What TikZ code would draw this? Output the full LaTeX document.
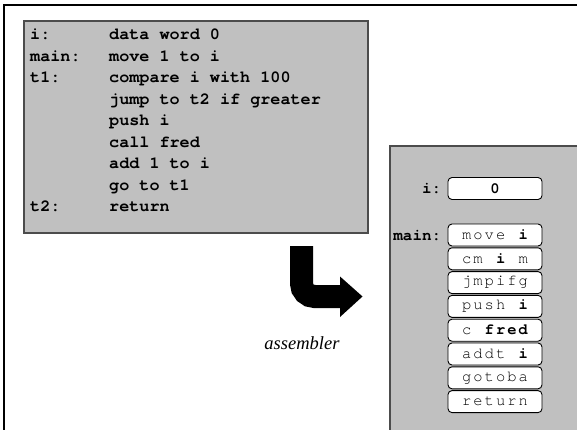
\documentclass[tikz,border=0pt]{standalone}
\usepackage{fontspec}
\setmainfont{Liberation Serif}
\newfontfamily\codefont{TeX Gyre Cursor}
\definecolor{panelgray}{RGB}{192,192,192}
\tikzset{
  panel/.style={fill=panelgray, draw=black!70, line width=1.5pt},
  codeline/.style={anchor=base west, inner sep=0pt,
    font=\codefont\bfseries\fontsize{16.8}{20}\selectfont},
  memlabel/.style={anchor=base east, inner sep=0pt,
    font=\codefont\bfseries\fontsize{16}{20}\selectfont},
  cell/.style={draw=black, fill=white, rounded corners=4pt, line width=0.9pt,
    minimum width=94pt, minimum height=22pt, inner sep=0pt,
    font=\codefont\fontsize{15.5}{17}\selectfont},
  bigarrow/.style={line width=23pt, rounded corners=13pt},
  caption/.style={font=\itshape\fontsize{18.5}{22}\selectfont, inner sep=0pt},
}
% six evenly spaced byte cells of text
\newcommand\sixbytes[6]{%
  \makebox[11.3pt]{#1}\makebox[11.3pt]{#2}\makebox[11.3pt]{#3}%
  \makebox[11.3pt]{#4}\makebox[11.3pt]{#5}\makebox[11.3pt]{#6}}
\newcommand\lbl[1]{\makebox[79pt][l]{#1}}
\begin{document}
\begin{tikzpicture}[x=1pt,y=-1pt]
  \useasboundingbox (0,0) rectangle (577,430);
  \clip (0,0) rectangle (577,430);

  % outer frame
  \draw[line width=2pt] (3.5,440) -- (3.5,5.5) -- (590,5.5);

  % source program
  \draw[panel] (24,21) rectangle (368,233);
  \foreach \n/\l/\c [count=\k from 0] in {
      a/{i:}/{data word 0},
      b/{main:}/{move 1 to i},
      c/{t1:}/{compare i with 100},
      d/{}/{jump to t2 if greater},
      e/{}/{push i},
      f/{}/{call fred},
      g/{}/{add 1 to i},
      h/{}/{go to t1},
      j/{t2:}/{return}}
    \node[codeline] (src-\n) at (30,40+21.46*\k) {\lbl{\l}\c};

  % assembled memory
  \draw[panel] (390,146) rectangle (600,450);
  \node[memlabel] (lab-i) at (441.5,193.5) {i:};
  \node[cell] (mem-i) at (495,188.5) {\textbf{0}};
  \node[memlabel] (lab-main) at (441.5,240) {main:};
  \foreach \n/\t [count=\k from 0] in {
      m0/{\sixbytes{m}{o}{v}{e}{}{\textbf{i}}},
      m1/{\sixbytes{c}{m}{}{\textbf{i}}{}{m}},
      m2/{\sixbytes{j}{m}{p}{i}{f}{g}},
      m3/{\sixbytes{p}{u}{s}{h}{}{\textbf{i}}},
      m4/{\sixbytes{c}{}{\textbf{f}}{\textbf{r}}{\textbf{e}}{\textbf{d}}},
      m5/{\sixbytes{a}{d}{d}{t}{}{\textbf{i}}},
      m6/{\sixbytes{g}{o}{t}{o}{b}{a}},
      m7/{\sixbytes{r}{e}{t}{u}{r}{n}}}
    \node[cell] (mem-\n) at (495,235+23.8*\k) {\t};

  % assembler step
  \coordinate (arrow-top) at (301.5,246);
  \coordinate (arrow-bend) at (301.5,296.5);
  \coordinate (arrow-base) at (341,296.5);
  \draw[bigarrow] (arrow-top) -- (arrow-bend) -- (arrow-base);
  \fill (340,276.5) -- (362.5,296.5) -- (340,317) -- cycle;
  \node[caption] (asm) at (302,343) {assembler};
\end{tikzpicture}
\end{document}
